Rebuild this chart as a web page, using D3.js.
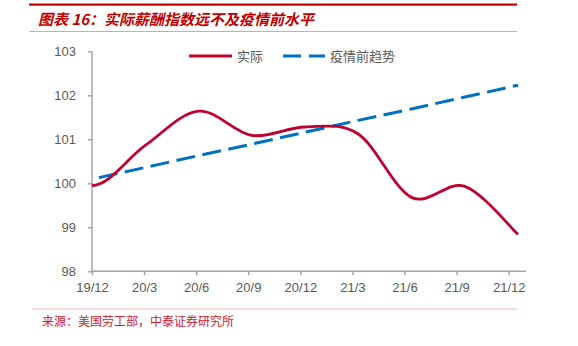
<!DOCTYPE html>
<html>
<head>
<meta charset="utf-8">
<script src="https://d3js.org/d3.v7.min.js"></script>
<style>
  body { margin: 0; background: #fff; }
  svg { display: block; }
</style>
</head>
<body>
<div id="chart"></div>
<script>
var width = 578, height = 346;

// quarterly ticks on the x axis
var tickLabels = ["19/12", "20/3", "20/6", "20/9", "20/12", "21/3", "21/6", "21/9", "21/12"];
var yTicks = [98, 99, 100, 101, 102, 103];

// series (one value per quarter)
var actual = [99.95, 100.86, 101.64, 101.09, 101.28, 101.12, 99.68, 99.93, 98.84];
var trend = [100.095, 100.36, 100.63, 100.89, 101.16, 101.43, 101.69, 101.96, 102.23];

var red = "#c0002e", blue = "#0070c0", grey = "#a6a6a6", txt = "#595959";

var svg = d3.select("#chart").append("svg")
  .attr("width", width)
  .attr("height", height);

// header / footer rules
svg.append("rect").attr("x", 29).attr("y", 3.5).attr("width", 488).attr("height", 2.2).attr("fill", "#c00000");
svg.append("line").attr("x1", 29).attr("x2", 517).attr("y1", 31.5).attr("y2", 31.5)
  .attr("stroke", "#e08a8a").attr("stroke-width", 0.8);
svg.append("line").attr("x1", 32).attr("x2", 517).attr("y1", 309).attr("y2", 309)
  .attr("stroke", "#f2b8b8").attr("stroke-width", 1.2);

svg.append("text")
  .attr("x", 38).attr("y", 24.5)
  .attr("fill", "#c00000")
  .style("font-family", "'Noto Sans CJK SC', sans-serif")
  .style("font-size", "15px")
  .style("font-weight", "bold")
  .style("font-style", "italic")
  .text("图表 16：实际薪酬指数远不及疫情前水平");

svg.append("text")
  .attr("x", 42).attr("y", 326)
  .attr("fill", "#d0202a")
  .style("font-family", "'Noto Sans CJK SC', sans-serif")
  .style("font-size", "12px")
  .text("来源：美国劳工部，中泰证券研究所");

// scales
var x = d3.scalePoint().domain(tickLabels).range([92, 508.7]);
var xData = d3.scaleLinear().domain([0, actual.length - 1]).range([92, 518]);
var y = d3.scaleLinear().domain([98, 103]).range([271.3, 51.3]);

// y axis
var yAxis = svg.append("g")
  .attr("transform", "translate(92,0)")
  .call(d3.axisLeft(y).tickValues(yTicks).tickSize(4).tickPadding(12).tickFormat(d3.format("d")));
yAxis.select(".domain").attr("stroke", grey).attr("stroke-width", 1.5).attr("d", "M0," + y(103) + "V" + y(98));
yAxis.selectAll(".tick line").attr("stroke", grey).attr("stroke-width", 1.5);
yAxis.selectAll(".tick text").attr("fill", txt)
  .style("font-family", "'Liberation Sans', Arial, sans-serif").style("font-size", "13px");

// x axis
var xAxis = svg.append("g")
  .attr("transform", "translate(0," + y(98) + ")")
  .call(d3.axisBottom(x).tickSize(4).tickPadding(7));
xAxis.select(".domain").attr("stroke", grey).attr("stroke-width", 1.5).attr("d", "M92,0H526");
xAxis.selectAll(".tick line").attr("stroke", grey).attr("stroke-width", 1.5);
xAxis.selectAll(".tick text").attr("fill", txt)
  .style("font-family", "'Liberation Sans', Arial, sans-serif").style("font-size", "13px");

// smoothed line like Excel: catmull-rom inside, flat start tangent
function smoothPath(vals) {
  var p = vals.map(function(v, i) { return [xData(i), y(v)]; });
  var n = p.length, path = d3.path();
  path.moveTo(p[0][0], p[0][1]);
  for (var i = 0; i < n - 1; i++) {
    var p0 = p[i - 1] || p[i], p1 = p[i], p2 = p[i + 1], p3 = p[i + 2] || p[i + 1];
    var c1 = i === 0 ? [p1[0] + (p2[0] - p1[0]) / 3, p1[1]]
                     : [p1[0] + (p2[0] - p0[0]) / 6, p1[1] + (p2[1] - p0[1]) / 6];
    var c2 = [p2[0] - (p3[0] - p1[0]) / 6, p2[1] - (p3[1] - p1[1]) / 6];
    path.bezierCurveTo(c1[0], c1[1], c2[0], c2[1], p2[0], p2[1]);
  }
  return path.toString();
}

var line = d3.line()
  .x(function(d, i) { return xData(i); })
  .y(function(d) { return y(d); });

svg.append("path")
  .datum(trend)
  .attr("fill", "none")
  .attr("stroke", blue)
  .attr("stroke-width", 3)
  .attr("stroke-dasharray", "19,7.5")
  .attr("stroke-dashoffset", 19.5)
  .attr("d", line);

svg.append("path")
  .attr("fill", "none")
  .attr("stroke", red)
  .attr("stroke-width", 2.8)
  .attr("d", smoothPath(actual));

// legend
var legend = svg.append("g")
  .style("font-family", "'Noto Sans CJK SC', sans-serif")
  .style("font-size", "13px");
legend.append("line").attr("x1", 189).attr("x2", 232).attr("y1", 56).attr("y2", 56)
  .attr("stroke", red).attr("stroke-width", 2.8);
legend.append("text").attr("x", 237).attr("y", 61).attr("fill", txt).text("实际");
legend.append("line").attr("x1", 283).attr("x2", 325).attr("y1", 56).attr("y2", 56)
  .attr("stroke", blue).attr("stroke-width", 3).attr("stroke-dasharray", "18,8");
legend.append("text").attr("x", 330).attr("y", 61).attr("fill", txt).text("疫情前趋势");
</script>
</body>
</html>
